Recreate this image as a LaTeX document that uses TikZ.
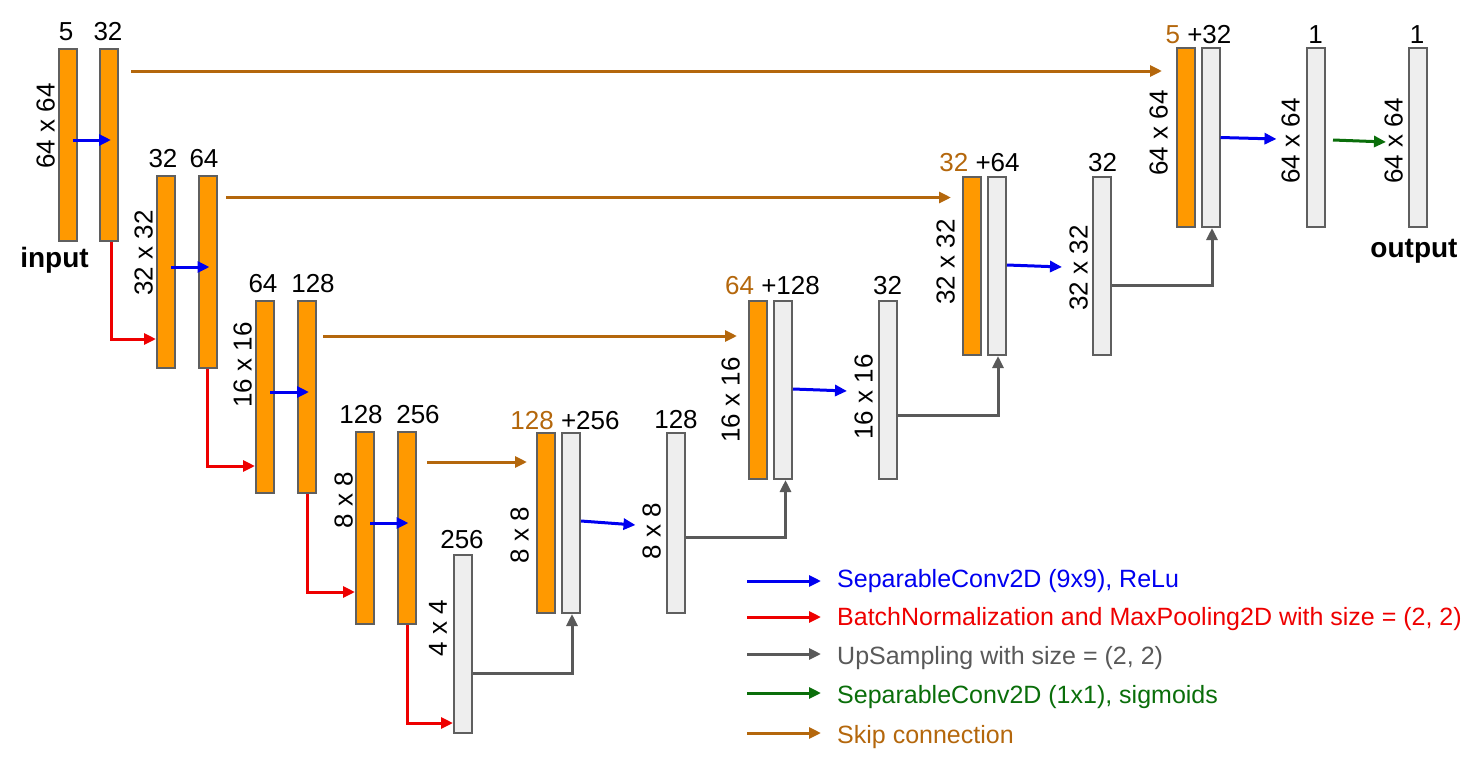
\documentclass[tikz,border=0pt]{standalone}
\usepackage{fontspec}
\setmainfont{Liberation Sans}
\usetikzlibrary{arrows.meta}
\definecolor{orangeF}{HTML}{FF9900}
\definecolor{grayF}{HTML}{EEEEEE}
\definecolor{borderC}{HTML}{5F5F5F}
\definecolor{skipC}{HTML}{B4670C}
\definecolor{convC}{HTML}{0000F0}
\definecolor{poolC}{HTML}{EE0000}
\definecolor{upC}{HTML}{595959}
\definecolor{sigC}{HTML}{0A6E0A}
\begin{document}
\begin{tikzpicture}[x=1pt,y=-1pt,
  box/.style={rectangle, draw=borderC, line width=2pt, minimum width=18pt, inner sep=0pt},
  obox/.style={box, fill=orangeF},
  gbox/.style={box, fill=grayF},
  toplab/.style={font=\fontsize{26}{30}\selectfont, inner sep=0pt, anchor=base},
  sidelab/.style={font=\fontsize{26}{30}\selectfont, inner sep=0pt, rotate=90, anchor=south},
  boldlab/.style={font=\fontsize{28}{32}\selectfont\bfseries, inner sep=0pt, anchor=base},
  legtxt/.style={font=\fontsize{25}{30}\selectfont, inner sep=0pt, anchor=base west},
  conn/.style={line width=3pt, -{Triangle[length=12pt,width=11pt]}},
  conv/.style={conn, draw=convC},
  pool/.style={conn, draw=poolC},
  upc/.style={conn, draw=upC},
  sig/.style={conn, draw=sigC},
  skipln/.style={conn, draw=skipC}
]
\useasboundingbox (0,0) rectangle (1484,764);

% ---------- boxes ----------
\node[obox, minimum height=192pt] (A1) at (67.5,145) {};
\node[obox, minimum height=192pt] (A2) at (109,145) {};
\node[obox, minimum height=192pt] (B1) at (166,272) {};
\node[obox, minimum height=192pt] (B2) at (207.5,272) {};
\node[obox, minimum height=192pt] (C1) at (265,397) {};
\node[obox, minimum height=192pt] (C2) at (307,397) {};
\node[obox, minimum height=192pt] (D1) at (365,528) {};
\node[obox, minimum height=192pt] (D2) at (406.5,528) {};
\node[gbox, minimum height=178pt] (E) at (463,644) {};
\node[obox, minimum height=180pt] (F1) at (546,523) {};
\node[gbox, minimum height=180pt] (F2) at (571,523) {};
\node[gbox, minimum height=180pt] (G) at (675.5,523) {};
\node[obox, minimum height=178pt] (H1) at (758,390) {};
\node[gbox, minimum height=178pt] (H2) at (783,390) {};
\node[gbox, minimum height=178pt] (I) at (888,390) {};
\node[obox, minimum height=178pt] (J1) at (972,266) {};
\node[gbox, minimum height=178pt] (J2) at (997,266) {};
\node[gbox, minimum height=178pt] (K) at (1102,266) {};
\node[obox, minimum height=179pt] (L1) at (1186,137.5) {};
\node[gbox, minimum height=179pt] (L2) at (1210.5,137.5) {};
\node[gbox, minimum height=179pt] (M) at (1315.5,137.5) {};
\node[gbox, minimum height=179pt] (N) at (1418,137.5) {};

% ---------- conv arrows ----------
\draw[conv] ([shift={(-5pt,5pt)}]A1.east) -- ([shift={(12pt,5pt)}]A2.west);
\draw[conv] ([shift={(-5pt,5pt)}]B1.east) -- ([shift={(12pt,5pt)}]B2.west);
\draw[conv] ([shift={(-5pt,5pt)}]C1.east) -- ([shift={(12pt,5pt)}]C2.west);
\draw[conv] ([shift={(-5pt,5pt)}]D1.east) -- ([shift={(12pt,5pt)}]D2.west);
\draw[conv] ([yshift=2pt]F2.east) -- ([shift={(-30pt,-2pt)}]G.west);
\draw[conv] ([yshift=1pt]H2.east) -- ([shift={(-31pt,-1pt)}]I.west);
\draw[conv] ([yshift=1pt]J2.east) -- ([shift={(-30pt,-1pt)}]K.west);
\draw[conv] (L2.east) -- ([shift={(-29pt,-1.5pt)}]M.west);
\draw[sig] ([shift={(7.5pt,-2.5pt)}]M.east) -- ([shift={(-22pt,-4.5pt)}]N.west);

% ---------- pooling arrows ----------
\draw[pool] ([xshift=2pt]A2.south) |- ([yshift=30pt]B1.south west);
\draw[pool] (B2.south) |- ([yshift=28pt]C1.south west);
\draw[pool] (C2.south) |- ([yshift=33pt]D1.south west);
\draw[pool] ([xshift=0.5pt]D2.south) |- ([yshift=11pt]E.south west);

% ---------- upsampling arrows ----------
\draw[upc] ([yshift=-29pt]E.east) -| ([xshift=1pt]F2.south);
\draw[upc] ([yshift=-14pt]G.east) -| ([xshift=2.5pt]H2.south);
\draw[upc] ([yshift=-25pt]I.east) -| ([xshift=1pt]J2.south);
\draw[upc] ([yshift=-19pt]K.east) -| ([xshift=1.5pt]L2.south);

% ---------- skip connections ----------
\coordinate (s1) at ([shift={(12pt,-23pt)}]A2.north east);
\coordinate (s2) at ([shift={(8.5pt,-22.5pt)}]B2.north east);
\coordinate (s3) at ([shift={(6pt,-36pt)}]C2.north east);
\coordinate (s4) at ([shift={(10.5pt,-31pt)}]D2.north east);
\draw[skipln, shorten >=14pt] (s1) -- (s1 -| L1.west);
\draw[skipln, shorten >=11pt] (s2) -- (s2 -| J1.west);
\draw[skipln, shorten >=11pt] (s3) -- (s3 -| H1.west);
\draw[skipln, shorten >=9pt] (s4) -- (s4 -| F1.west);

% ---------- top labels ----------
\node[toplab] (tA1) at (66,40) {5};
\node[toplab] (tA2) at (108,40) {32};
\node[toplab] (tB1) at (163,167) {32};
\node[toplab] (tB2) at (204,167) {64};
\node[toplab] (tC1) at (263,292) {64};
\node[toplab] (tC2) at (313,292) {128};
\node[toplab] (tD1) at (361,423) {128};
\node[toplab] (tD2) at (418,423) {256};
\node[toplab] (tE) at (462,548) {256};
\node[toplab] (tF) at (565,429) {{\color{skipC}128} +256};
\node[toplab] (tG) at (676,428) {128};
\node[toplab] (tH) at (772.5,294) {{\color{skipC}64} +128};
\node[toplab] (tI) at (887.5,294) {32};
\node[toplab] (tJ) at (979.5,171) {{\color{skipC}32} +64};
\node[toplab] (tK) at (1102.5,171) {32};
\node[toplab] (tL) at (1198.5,43) {{\color{skipC}5} +32};
\node[toplab] (tM) at (1315.5,43) {1};
\node[toplab] (tN) at (1417,43) {1};

% ---------- side labels ----------
\node[sidelab] (sA) at (55,126) {64 x 64};
\node[sidelab] (sB) at (153,253) {32 x 32};
\node[sidelab] (sC) at (252,365) {16 x 16};
\node[sidelab] (sD) at (353,500) {8 x 8};
\node[sidelab] (sE) at (447,628) {4 x 4};
\node[sidelab] (sF) at (529,535) {8 x 8};
\node[sidelab] (sG) at (661,531) {8 x 8};
\node[sidelab] (sH) at (740,400) {16 x 16};
\node[sidelab] (sI) at (873,397) {16 x 16};
\node[sidelab] (sJ) at (955,262) {32 x 32};
\node[sidelab] (sK) at (1088,268) {32 x 32};
\node[sidelab] (sL) at (1168,133) {64 x 64};
\node[sidelab] (sM) at (1300,141) {64 x 64};
\node[sidelab] (sN) at (1403,141) {64 x 64};

\node[boldlab] (inp) at (54.5,267) {input};
\node[boldlab] (outp) at (1414,257) {output};

% ---------- legend ----------
\coordinate (la1) at (747,581); \coordinate (lb1) at (821,581);
\coordinate (la2) at (747,617); \coordinate (lb2) at (821,617);
\coordinate (la3) at (747,654); \coordinate (lb3) at (821,654);
\coordinate (la4) at (747,693); \coordinate (lb4) at (821,693);
\coordinate (la5) at (747,733); \coordinate (lb5) at (821,733);
\draw[conv] (la1) -- (lb1);
\draw[pool] (la2) -- (lb2);
\draw[upc] (la3) -- (lb3);
\draw[sig] (la4) -- (lb4);
\draw[skipln] (la5) -- (lb5);
\node[legtxt, text=convC] (lt1) at (837,587) {SeparableConv2D (9x9), ReLu};
\node[legtxt, text=poolC] (lt2) at (837,625) {BatchNormalization and MaxPooling2D with size = (2, 2)};
\node[legtxt, text=upC] (lt3) at (837,664) {UpSampling with size = (2, 2)};
\node[legtxt, text=sigC] (lt4) at (837,703) {SeparableConv2D (1x1), sigmoids};
\node[legtxt, text=skipC] (lt5) at (837,743) {Skip connection};
\end{tikzpicture}
\end{document}
